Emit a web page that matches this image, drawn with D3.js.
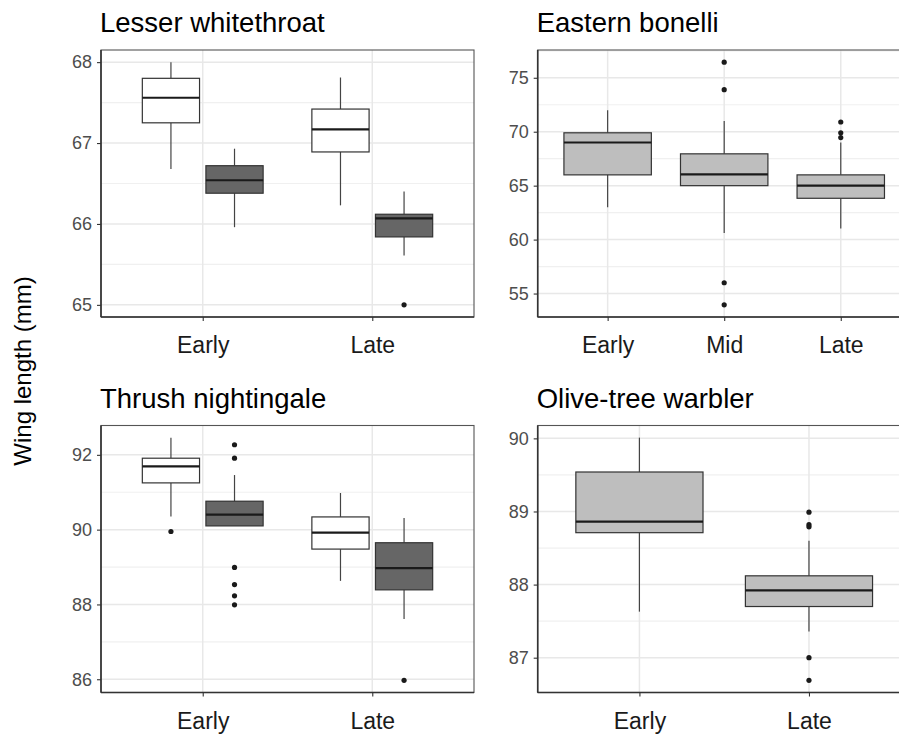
<!DOCTYPE html>
<html lang="en">
<head>
<meta charset="utf-8" />
<title>Wing length by period</title>
<style>
  body { margin: 0; background: #fff; }
  svg { display: block; font-family: "Liberation Sans", Arial, sans-serif; }
  .grid-major { stroke: #e8e8e8; stroke-width: 1.5; }
  .grid-minor { stroke: #f0f0f0; stroke-width: 1.2; }
  .whisker { stroke: #444; stroke-width: 1.2; }
  .box { stroke: #333; stroke-width: 1.2; }
  .median { stroke: #1a1a1a; stroke-width: 2.2; }
  .outlier { fill: #1a1a1a; }
  .yaxis text { fill: #4d4d4d; font-size: 18px; }
  .xaxis text { fill: #1a1a1a; font-size: 23px; }
  .yaxis line, .xaxis line { stroke: #333; stroke-width: 1.1; }
  .title { font-size: 27.5px; fill: #000; }
</style>
</head>
<body>
<div id="chart"></div>
<script src="https://cdnjs.cloudflare.com/ajax/libs/d3/7.8.5/d3.min.js"></script>
<script>
// ---- data (min, q1, median, q3, max) ----
var titles = ["Lesser whitethroat", "Eastern bonelli", "Thrush nightingale", "Olive-tree warbler"];

var lwPeriods = ["Early", "Late"];
var lwStatsA = [[66.68, 67.25, 67.56, 67.80, 68.00], [66.23, 66.89, 67.17, 67.42, 67.81]];
var lwStatsB = [[65.96, 66.38, 66.54, 66.72, 66.93], [65.61, 65.84, 66.07, 66.12, 66.40]];
var lwOutA = [[], []];
var lwOutB = [[], [65.0]];
var lwTicks = [65, 66, 67, 68];

var ebPeriods = ["Early", "Mid", "Late"];
var ebStats = [[63.0, 66.0, 69.0, 69.9, 72.0], [60.6, 65.0, 66.04, 67.95, 71.0], [61.03, 63.83, 65.0, 66.0, 69.0]];
var ebOut = [[], [76.45, 73.9, 56.0, 53.95], [70.9, 69.9, 69.46]];
var ebTicks = [55, 60, 65, 70, 75];

var tnPeriods = ["Early", "Late"];
var tnStatsA = [[90.35, 91.25, 91.69, 91.91, 92.46], [88.63, 89.48, 89.92, 90.34, 90.98]];
var tnStatsB = [[90.10, 90.10, 90.40, 90.76, 91.46], [87.61, 88.39, 88.97, 89.65, 90.31]];
var tnOutA = [[89.95], []];
var tnOutB = [[92.27, 91.91, 88.99, 88.53, 88.23, 87.99], [85.97]];
var tnTicks = [86, 88, 90, 92];

var otPeriods = ["Early", "Late"];
var otStats = [[87.63, 88.71, 88.86, 89.54, 90.01], [87.36, 87.70, 87.92, 88.12, 88.60]];
var otOut = [[], [88.99, 88.82, 88.79, 87.0, 86.69]];
var otTicks = [87, 88, 89, 90];

var yLabel = "Wing length (mm)";

// ---- layout ----
var width = 899, height = 735;
var PW = 373, PH = 267;

var svg = d3.select("#chart").append("svg")
  .attr("width", width)
  .attr("height", height);

var panels = [
  { title: titles[0], cats: lwPeriods, groups: [{ stats: lwStatsA, out: lwOutA, fill: "#ffffff" }, { stats: lwStatsB, out: lwOutB, fill: "#666666" }], ticks: lwTicks, x0: 101, y0: 50 },
  { title: titles[1], cats: ebPeriods, groups: [{ stats: ebStats, out: ebOut, fill: "#bebebe" }], ticks: ebTicks, x0: 537.7, y0: 50 },
  { title: titles[2], cats: tnPeriods, groups: [{ stats: tnStatsA, out: tnOutA, fill: "#ffffff" }, { stats: tnStatsB, out: tnOutB, fill: "#666666" }], ticks: tnTicks, x0: 101, y0: 425.5 },
  { title: titles[3], cats: otPeriods, groups: [{ stats: otStats, out: otOut, fill: "#bebebe" }], ticks: otTicks, x0: 537.7, y0: 425.5 }
];

panels.forEach(drawPanel);

svg.append("text")
  .attr("transform", "translate(31," + 371 + ") rotate(-90)")
  .attr("text-anchor", "middle")
  .attr("font-size", "24px")
  .attr("fill", "#000")
  .text(yLabel);

function drawPanel(p) {
  var g = svg.append("g");

  var x = d3.scalePoint().domain(p.cats).range([p.x0, p.x0 + PW]).padding(0.6);

  var vals = [];
  p.groups.forEach(function(gr) {
    gr.stats.forEach(function(s) { vals = vals.concat(s); });
    gr.out.forEach(function(o) { vals = vals.concat(o); });
  });
  var lo = d3.min(vals), hi = d3.max(vals), r = hi - lo;
  var y = d3.scaleLinear().domain([lo - 0.05 * r, hi + 0.05 * r]).range([p.y0 + PH, p.y0]);

  // panel background
  g.append("rect")
    .attr("x", p.x0).attr("y", p.y0)
    .attr("width", PW).attr("height", PH)
    .attr("fill", "#fff");

  // minor grid
  var step = p.ticks[1] - p.ticks[0];
  var minor = d3.range(p.ticks[0] - step / 2, p.ticks[p.ticks.length - 1] + step, step)
    .filter(function(v) { return v > y.domain()[0] && v < y.domain()[1]; });
  g.selectAll(".grid-minor").data(minor).enter().append("line")
    .attr("class", "grid-minor")
    .attr("x1", p.x0).attr("x2", p.x0 + PW)
    .attr("y1", function(d) { return y(d); })
    .attr("y2", function(d) { return y(d); });

  // major grid
  g.selectAll(".grid-h").data(p.ticks).enter().append("line")
    .attr("class", "grid-major grid-h")
    .attr("x1", p.x0).attr("x2", p.x0 + PW)
    .attr("y1", function(d) { return y(d); })
    .attr("y2", function(d) { return y(d); });
  g.selectAll(".grid-v").data(p.cats).enter().append("line")
    .attr("class", "grid-major grid-v")
    .attr("x1", function(d) { return x(d); })
    .attr("x2", function(d) { return x(d); })
    .attr("y1", p.y0).attr("y2", p.y0 + PH);

  // boxes (dodged like ggplot)
  var stepX = x.step();
  var n = p.groups.length;
  var dodgeW = 0.75 * stepX;
  var boxW = n > 1 ? (dodgeW / n) * 0.9 : dodgeW;

  p.groups.forEach(function(gr, gi) {
    var off = n > 1 ? -dodgeW / 2 + dodgeW / n * (gi + 0.5) : 0;
    p.cats.forEach(function(c, ci) {
      var s = gr.stats[ci];
      var cx = x(c) + off;
      var bg = g.append("g");
      bg.append("line").attr("class", "whisker")
        .attr("x1", cx).attr("x2", cx)
        .attr("y1", y(s[4])).attr("y2", y(s[3]));
      bg.append("line").attr("class", "whisker")
        .attr("x1", cx).attr("x2", cx)
        .attr("y1", y(s[1])).attr("y2", y(s[0]));
      bg.append("rect").attr("class", "box")
        .attr("x", cx - boxW / 2).attr("width", boxW)
        .attr("y", y(s[3])).attr("height", y(s[1]) - y(s[3]))
        .attr("fill", gr.fill);
      bg.append("line").attr("class", "median")
        .attr("x1", cx - boxW / 2).attr("x2", cx + boxW / 2)
        .attr("y1", y(s[2])).attr("y2", y(s[2]));
      bg.selectAll(".outlier").data(gr.out[ci]).enter().append("circle")
        .attr("class", "outlier")
        .attr("cx", cx)
        .attr("cy", function(d) { return y(d); })
        .attr("r", 2.6);
    });
  });

  // panel border
  g.append("rect")
    .attr("x", p.x0).attr("y", p.y0)
    .attr("width", PW).attr("height", PH)
    .attr("fill", "none")
    .attr("stroke", "#555")
    .attr("stroke-width", 1.1);
  // axis lines
  g.append("line")
    .attr("x1", p.x0).attr("x2", p.x0)
    .attr("y1", p.y0).attr("y2", p.y0 + PH)
    .attr("stroke", "#333").attr("stroke-width", 1.6);
  g.append("line")
    .attr("x1", p.x0).attr("x2", p.x0 + PW)
    .attr("y1", p.y0 + PH).attr("y2", p.y0 + PH)
    .attr("stroke", "#333").attr("stroke-width", 1.6);

  // axes
  var ya = g.append("g")
    .attr("class", "yaxis")
    .attr("transform", "translate(" + p.x0 + ",0)")
    .call(d3.axisLeft(y).tickValues(p.ticks).tickFormat(d3.format("d")).tickSize(4).tickPadding(5));
  ya.select(".domain").remove();
  ya.attr("font-family", null).attr("font-size", null);

  var xa = g.append("g")
    .attr("class", "xaxis")
    .attr("transform", "translate(0," + (p.y0 + PH) + ")")
    .call(d3.axisBottom(x).tickSize(4).tickPadding(16));
  xa.select(".domain").remove();
  xa.attr("font-family", null).attr("font-size", null);

  // title
  g.append("text")
    .attr("class", "title")
    .attr("x", p.x0 - 1)
    .attr("y", p.y0 - 18)
    .text(p.title);
}
</script>
</body>
</html>
